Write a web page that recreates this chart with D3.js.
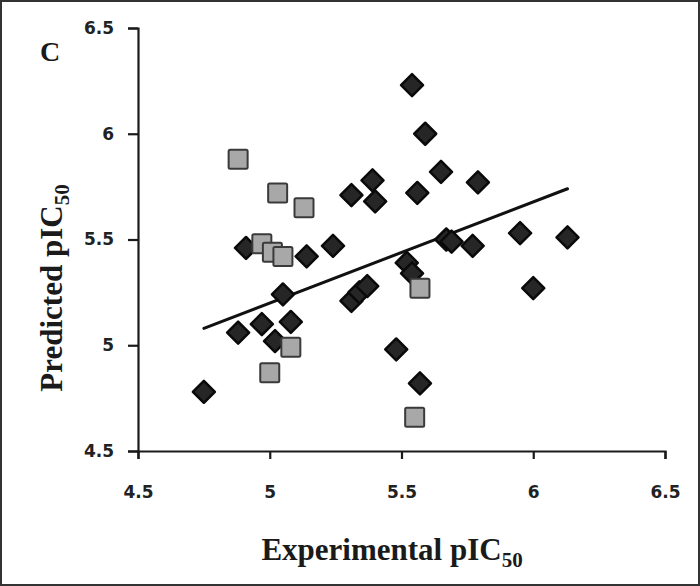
<!DOCTYPE html>
<html>
<head>
<meta charset="utf-8">
<script src="https://cdn.jsdelivr.net/npm/d3@7"></script>
<style>
  body { margin: 0; background: #fff; }
  .axis path, .axis line { stroke: #1a1a1a; stroke-width: 2.2px; }
  .axis text { font-family: "DejaVu Sans", Verdana, sans-serif; font-weight: bold; font-size: 17px; fill: #222; }
  .title { font-family: "Liberation Serif", "Times New Roman", serif; font-weight: bold; fill: #1a1a1a; }
</style>
</head>
<body>
<div id="chart"></div>
<script>
var W = 700, H = 586;
var margin = { top: 28, right: 35, bottom: 135, left: 138 },
    width = W - margin.left - margin.right,
    height = H - margin.top - margin.bottom;

// training set (diamonds)
var trainExp = [5.54, 5.59, 5.39, 5.31, 5.40, 5.56, 5.65, 5.79, 5.95, 6.13, 5.67, 5.69, 5.77, 5.24, 4.91, 5.14,
                5.05, 4.88, 4.97, 5.08, 5.02, 4.75, 5.31, 5.34, 5.37, 5.52, 5.54, 6.00, 5.48, 5.57];
var trainPred = [6.23, 6.00, 5.78, 5.71, 5.68, 5.72, 5.82, 5.77, 5.53, 5.51, 5.50, 5.49, 5.47, 5.47, 5.46, 5.42,
                 5.24, 5.06, 5.10, 5.11, 5.02, 4.78, 5.21, 5.25, 5.28, 5.39, 5.34, 5.27, 4.98, 4.82];

// test set (squares)
var testExp = [4.88, 5.03, 5.13, 4.97, 5.01, 5.05, 5.08, 5.00, 5.57, 5.55];
var testPred = [5.88, 5.72, 5.65, 5.48, 5.44, 5.42, 4.99, 4.87, 5.27, 4.66];

// trend line end points
var trendX = [4.75, 6.13];
var trendY = [5.08, 5.74];

var ticks = [4.5, 5, 5.5, 6, 6.5];

var svg = d3.select("#chart").append("svg")
    .attr("width", W)
    .attr("height", H);

svg.append("rect")
    .attr("x", 1).attr("y", 1)
    .attr("width", W - 2).attr("height", H - 2)
    .attr("fill", "#fff")
    .attr("stroke", "#333")
    .attr("stroke-width", 2);

var g = svg.append("g")
    .attr("transform", "translate(" + margin.left + "," + margin.top + ")");

var x = d3.scaleLinear().domain([4.5, 6.5]).range([0, width]);
var y = d3.scaleLinear().domain([4.5, 6.5]).range([height, 0]);

var xAxis = d3.axisBottom(x).tickValues(ticks).tickSize(8).tickPadding(27)
    .tickFormat(function (d) { return String(d); });
var yAxis = d3.axisLeft(y).tickValues(ticks).tickSize(10).tickPadding(14)
    .tickFormat(function (d) { return String(d); });

g.append("g")
    .attr("class", "axis")
    .attr("transform", "translate(0," + height + ")")
    .call(xAxis);

g.append("g")
    .attr("class", "axis")
    .call(yAxis);

// trend line
g.append("line")
    .attr("x1", x(trendX[0])).attr("y1", y(trendY[0]))
    .attr("x2", x(trendX[1])).attr("y2", y(trendY[1]))
    .attr("stroke", "#111")
    .attr("stroke-width", 3)
    .attr("stroke-linecap", "round");

var train = trainExp.map(function (d, i) { return { x: d, y: trainPred[i] }; });
var test = testExp.map(function (d, i) { return { x: d, y: testPred[i] }; });

var diamond = "M0,-11L11,0L0,11L-11,0Z";

g.selectAll(".dia")
    .data(train)
    .enter().append("path")
    .attr("class", "dia")
    .attr("d", diamond)
    .attr("transform", function (d) { return "translate(" + x(d.x) + "," + y(d.y) + ")"; })
    .attr("fill", "#262626")
    .attr("stroke", "#0a0a0a")
    .attr("stroke-width", 2.5)
    .attr("stroke-linejoin", "round");

g.selectAll(".sq")
    .data(test)
    .enter().append("rect")
    .attr("class", "sq")
    .attr("x", function (d) { return x(d.x) - 9.5; })
    .attr("y", function (d) { return y(d.y) - 9.5; })
    .attr("width", 19)
    .attr("height", 19)
    .attr("rx", 1.5)
    .attr("fill", "#a8a8a8")
    .attr("stroke", "#3a3a3a")
    .attr("stroke-width", 2);

// titles
svg.append("text")
    .attr("class", "title")
    .attr("x", 392)
    .attr("y", 560)
    .attr("text-anchor", "middle")
    .style("font-size", "31px")
    .text("Experimental pIC")
    .append("tspan")
    .attr("dy", 7)
    .style("font-size", "21px")
    .text("50");

svg.append("text")
    .attr("class", "title")
    .attr("transform", "translate(62,288) rotate(-90)")
    .attr("text-anchor", "middle")
    .style("font-size", "31px")
    .text("Predicted pIC")
    .append("tspan")
    .attr("dy", 7)
    .style("font-size", "21px")
    .text("50");

svg.append("text")
    .attr("class", "title")
    .attr("x", 40)
    .attr("y", 61)
    .style("font-size", "28px")
    .text("C");
</script>
</body>
</html>
